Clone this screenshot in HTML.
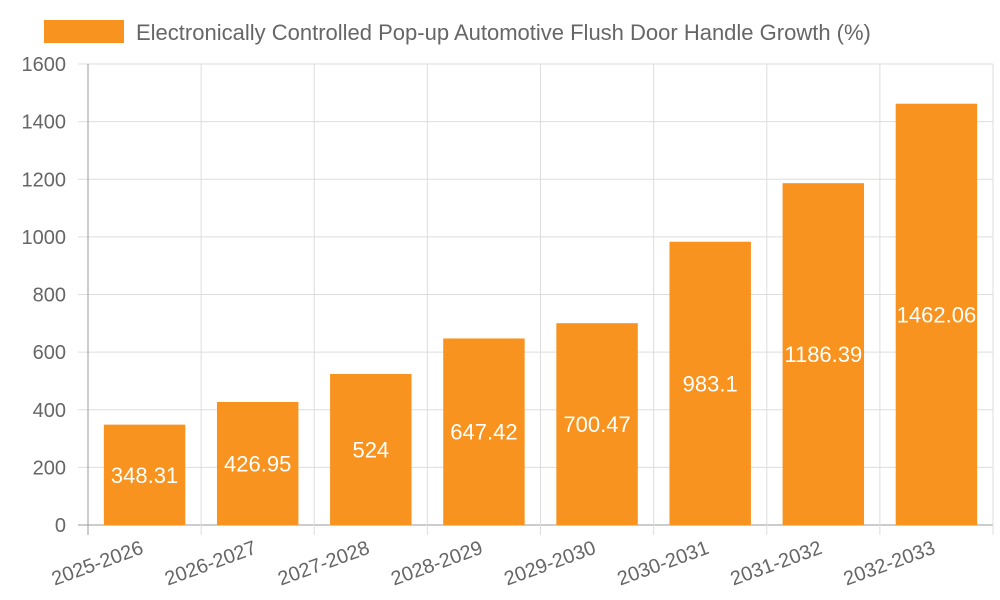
<!DOCTYPE html>
<html><head><meta charset="utf-8"><style>
html,body{margin:0;padding:0;background:#fff;width:1000px;height:600px;overflow:hidden}
svg text{font-family:"Liberation Sans",sans-serif}
</style></head><body>
<svg id="chart" width="1000" height="600" xmlns="http://www.w3.org/2000/svg">
<rect x="44" y="20" width="80" height="23" fill="#f7931e"/>
<text x="136" y="40" font-size="22" fill="#666">Electronically Controlled Pop-up Automotive Flush Door Handle Growth (%)</text>
<g id="grid"></g><g id="bars"></g><g id="labels"></g>
</svg>
<script>
const categories=["2025-2026","2026-2027","2027-2028","2028-2029","2029-2030","2030-2031","2031-2032","2032-2033"];
const values=[348.31,426.95,524,647.42,700.47,983.1,1186.39,1462.06];
const yTicks=[0,200,400,600,800,1000,1200,1400,1600];
const NS="http://www.w3.org/2000/svg";
const L=88,R=993,T=64,B=525,yMax=1600;
const bw=(R-L)/categories.length;
const y=v=>B-(v/yMax)*(B-T);
const x=i=>L+i*bw;
function mk(tag,attrs,parent,txt){const e=document.createElementNS(NS,tag);for(const k in attrs)e.setAttribute(k,attrs[k]);if(txt!==undefined)e.textContent=txt;document.getElementById(parent).appendChild(e);return e;}
yTicks.forEach(t=>{
 const g=mk('line',{x1:L-10,x2:R,y1:y(t),y2:y(t),stroke:t===0?'#999':'#ddd','stroke-width':1},'grid');
 
 
 const lb=mk('text',{x:L-22,y:y(t)+7,'text-anchor':'end','font-size':20,fill:'#666'},'grid',String(t));
 
 
});
for(let i=0;i<=categories.length;i++){
 const g=mk('line',{x1:x(i),x2:x(i),y1:T,y2:B+10,stroke:i===0?'#999':'#ddd','stroke-width':1},'grid');
 
 
}
categories.forEach((c,i)=>{
 const cx=x(i)+bw/2, w=bw*0.72;
 const r=mk('rect',{x:cx-w/2,y:y(values[i]),width:w,height:B-y(values[i]),fill:'#f7931e'},'bars');
 
 
 const v=mk('text',{x:cx,y:(y(values[i])+B)/2+8,'text-anchor':'middle','font-size':22,fill:'#fff'},'labels',String(values[i]));
 
 
 const xl=mk('text',{x:cx,y:B+28,'text-anchor':'end','font-size':20,fill:'#666',transform:`rotate(-20 ${cx} ${B+28})`},'labels',c);
 
 
});
</script>
</body></html>
